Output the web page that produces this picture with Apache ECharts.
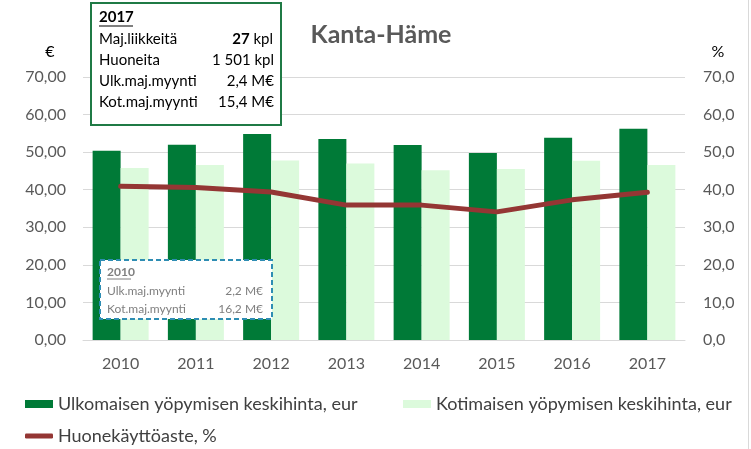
<!DOCTYPE html>
<html>
<head>
<meta charset="utf-8">
<script src="https://cdn.jsdelivr.net/npm/echarts@6/dist/echarts.min.js"></script>
<style>html,body{margin:0;padding:0;background:#fff}#c{width:751px;height:449px}</style>
</head>
<body>
<div id="c"></div>
<script>
const categories = ['2010','2011','2012','2013','2014','2015','2016','2017'];
const ulkoHinta = [50.4, 52.0, 54.8, 53.5, 51.9, 49.8, 53.8, 56.2];
const kotiHinta = [45.8, 46.6, 47.8, 47.0, 45.2, 45.5, 47.7, 46.6];
const kayttoaste = [40.9, 40.6, 39.4, 35.9, 35.9, 34.1, 37.3, 39.3];
const seriesNames = ['Ulkomaisen yöpymisen keskihinta, eur', 'Kotimaisen yöpymisen keskihinta, eur', 'Huonekäyttöaste, %'];
const titleText = 'Kanta-Häme';
const box2017 = [['Maj.liikkeitä', '27', ' kpl'], ['Huoneita', '', '1 501 kpl'], ['Ulk.maj.myynti', '', '2,4 M€'], ['Kot.maj.myynti', '', '15,4 M€']];
const box2010 = [['Ulk.maj.myynti', '2,2 M€'], ['Kot.maj.myynti', '16,2 M€']];

const FONT = 'Lato';
const chart = echarts.init(document.getElementById('c'), null, {renderer: 'canvas'});

const graphics = [];
// top box
graphics.push({type: 'rect', shape: {x: 91, y: 3, width: 190, height: 122}, style: {fill: '#fff', stroke: '#1f7a45', lineWidth: 2}, z: 100});
graphics.push({type: 'text', x: 99, y: 17, style: {text: '2017', font: 'bold 15px ' + FONT, fill: '#000', verticalAlign: 'middle'}, z: 101});
graphics.push({type: 'line', shape: {x1: 99, y1: 26, x2: 133, y2: 26}, style: {stroke: '#000', lineWidth: 1.2}, z: 101});
box2017.forEach((r, i) => {
  const y = 39 + i * 21.2;
  graphics.push({type: 'text', x: 99, y: y, style: {text: r[0], font: '15px ' + FONT, fill: '#000', verticalAlign: 'middle'}, z: 101});
  if (r[1]) {
    graphics.push({type: 'text', x: 273, y: y, style: {text: '{b|' + r[1] + '}{n|' + r[2] + '}', align: 'right', verticalAlign: 'middle', rich: {b: {font: 'bold 15px ' + FONT, fill: '#000'}, n: {font: '15px ' + FONT, fill: '#000'}}}, z: 101});
  } else {
    graphics.push({type: 'text', x: 274, y: y, style: {text: r[2], font: '15px ' + FONT, fill: '#000', align: 'right', verticalAlign: 'middle'}, z: 101});
  }
});
// bottom dashed box
graphics.push({type: 'rect', shape: {x: 100, y: 260, width: 172, height: 59}, style: {fill: '#fff', stroke: '#2e8db3', lineWidth: 2, lineDash: [5, 3]}, z: 100});
graphics.push({type: 'text', x: 107, y: 272, style: {text: '2010', font: 'bold 12px ' + FONT, fill: '#7f7f7f', verticalAlign: 'middle'}, z: 101});
graphics.push({type: 'line', shape: {x1: 107, y1: 279, x2: 131, y2: 279}, style: {stroke: '#7f7f7f', lineWidth: 1}, z: 101});
box2010.forEach((r, i) => {
  const y = 291 + i * 18;
  graphics.push({type: 'text', x: 107, y: y, style: {text: r[0], font: '12px ' + FONT, fill: '#7f7f7f', verticalAlign: 'middle'}, z: 101});
  graphics.push({type: 'text', x: 263, y: y, style: {text: r[1], font: '12px ' + FONT, fill: '#7f7f7f', align: 'right', verticalAlign: 'middle'}, z: 101});
});
// axis unit labels
graphics.push({type: 'text', x: 50, y: 52, style: {text: '€', font: '16px ' + FONT, fill: '#000', align: 'center', verticalAlign: 'middle'}});
graphics.push({type: 'text', x: 718, y: 52, style: {text: '%', font: '16px ' + FONT, fill: '#000', align: 'center', verticalAlign: 'middle'}});
// chart border right
graphics.push({type: 'line', shape: {x1: 748.5, y1: 0, x2: 748.5, y2: 449}, style: {stroke: '#d9d9d9', lineWidth: 1}});

const legendText = {fontFamily: FONT, fontSize: 18, color: '#404040'};
chart.setOption({
  animation: false,
  backgroundColor: '#fff',
  title: {text: titleText, left: 376, top: 17, textAlign: 'center', textStyle: {fontFamily: FONT, fontWeight: 'bold', fontSize: 25, color: '#595959'}},
  grid: {left: 83, right: 66, top: 77, bottom: 109, containLabel: false},
  legend: [
    {data: [seriesNames[0]], left: 20, top: 390, itemWidth: 28, itemHeight: 8, textStyle: legendText, icon: 'rect'},
    {data: [seriesNames[1]], left: 398, top: 390, itemWidth: 28, itemHeight: 8, textStyle: legendText, icon: 'rect'},
    {data: [seriesNames[2]], left: 20, top: 422, itemWidth: 28, itemHeight: 5, textStyle: legendText, icon: 'roundRect'}
  ],
  xAxis: {
    type: 'category', data: categories,
    axisLine: {lineStyle: {color: '#d9d9d9', width: 1}},
    axisTick: {show: false},
    axisLabel: {fontFamily: FONT, fontSize: 16, color: '#595959', margin: 16}
  },
  yAxis: [
    {type: 'value', min: 0, max: 70, interval: 10,
     axisLabel: {fontFamily: FONT, fontSize: 16, color: '#595959', margin: 17, formatter: v => v.toFixed(2).replace('.', ',')},
     splitLine: {lineStyle: {color: '#d9d9d9', width: 1}}, axisLine: {show: false}, axisTick: {show: false}},
    {type: 'value', min: 0, max: 70, interval: 10,
     axisLabel: {fontFamily: FONT, fontSize: 16, color: '#595959', margin: 18, formatter: v => v.toFixed(1).replace('.', ',')},
     splitLine: {show: false}, axisLine: {show: false}, axisTick: {show: false}}
  ],
  series: [
    {name: seriesNames[0], type: 'bar', data: ulkoHinta, barWidth: 28, barGap: '0%', itemStyle: {color: '#007a37'}},
    {name: seriesNames[1], type: 'bar', data: kotiHinta, barWidth: 28, barGap: '0%', itemStyle: {color: '#dcfadc'}},
    {name: seriesNames[2], type: 'line', yAxisIndex: 1, data: kayttoaste, symbol: 'none', lineStyle: {color: '#943634', width: 5, cap: 'round', join: 'round'}, itemStyle: {color: '#943634'}, z: 5}
  ],
  graphic: graphics
});
</script>
</body>
</html>
